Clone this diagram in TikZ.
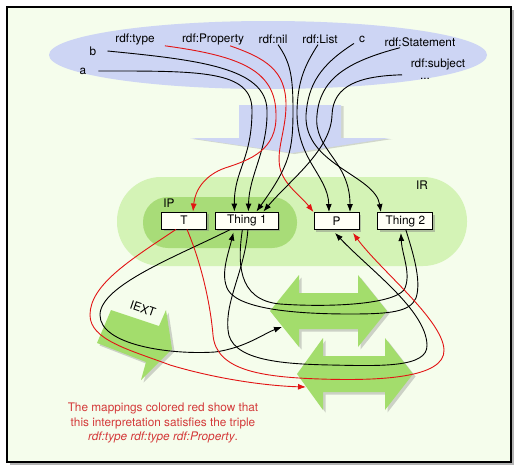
\documentclass[tikz,border=0pt]{standalone}
\usepackage{fontspec}
\setmainfont{TeX Gyre Heros}
\usetikzlibrary{positioning,shadows,arrows.meta}
\definecolor{paper}{RGB}{245,253,236}
\definecolor{skyblue}{RGB}{205,213,244}
\definecolor{irgreen}{RGB}{212,243,182}
\definecolor{ipgreen}{RGB}{168,220,120}
\definecolor{arrowgreen}{RGB}{163,221,108}
\definecolor{mapred}{RGB}{226,20,20}
\definecolor{notered}{RGB}{212,58,58}
\definecolor{boxfill}{RGB}{255,255,246}

\begin{document}
\begin{tikzpicture}[x=1pt, y=-1pt, >={Latex[length=8pt,width=6pt]},
  every node/.style={font=\fontsize{11.8}{14.5}\selectfont},
  box/.style={rectangle, draw, fill=boxfill, line width=0.9pt, minimum height=17pt, minimum width=45pt, inner sep=2pt, drop shadow={shadow xshift=2pt, shadow yshift=-2pt, opacity=0.45}},
  lbl/.style={inner sep=1pt},
  map/.style={line width=0.9pt, ->},
  redmap/.style={map, draw=mapred},
  greenarrow/.style={fill=arrowgreen, drop shadow={shadow xshift=2.5pt, shadow yshift=-2.5pt, opacity=0.35}}]
\useasboundingbox (0,0) rectangle (517,471);
\draw[line width=1.2pt, fill=paper, drop shadow={shadow xshift=2.5pt, shadow yshift=-2.5pt, opacity=0.6}] (7,7) rectangle (511,462);

% the vocabulary and the interpretation arrow
\fill[skyblue] (268,55) ellipse [x radius=219, y radius=34];
\fill[skyblue, drop shadow={shadow xshift=2.5pt, shadow yshift=-1pt, opacity=0.3}] (239,105) -- (341,105) -- (341,138) -- (390,138) -- (292,153) -- (190,138) -- (239,138) -- cycle;

% IR and IP
\fill[irgreen, rounded corners=44pt] (117,177) rectangle (467,266);
\fill[ipgreen, rounded corners=25pt] (143,197) rectangle (297,248);
\node (ir) at (422,185) {IR};
\node (ip) at (169,203) {IP};

% IEXT and the pairs
\fill[greenarrow] (111,310) -- (159,326) -- (166,310) -- (172,349) -- (141,380) -- (146,362) -- (97,343) -- cycle;
\node[rotate=-19, inner sep=0pt] (iext) at (143,309) {IEXT};
\fill[greenarrow] (270,311) -- (299,275) -- (299,293) -- (358,293) -- (358,275) -- (387,311) -- (358,347) -- (358,329) -- (299,329) -- (299,347) -- cycle;
\coordinate (upper) at (282,327);
\fill[greenarrow] (297,374) -- (323,338) -- (323,356) -- (385,356) -- (385,338) -- (413,374) -- (385,410) -- (385,392) -- (323,392) -- (323,410) -- cycle;
\coordinate (lower) at (306,387);

\node[lbl] (a) at (83,71) {a};
\node[lbl] (b) at (93,51) {b};
\node[lbl] (type) at (135,39) {rdf:type};
\node[lbl] (property) at (213,39) {rdf:Property};
\node[lbl] (nil) at (273,39) {rdf:nil};
\node[lbl] (list) at (320,39) {rdf:List};
\node[lbl] (c) at (362,39) {c};
\node[lbl] (statement) at (420,42) {rdf:Statement};
\node[lbl] (subject) at (438,64) {rdf:subject};
\node[lbl, anchor=base, text height=2pt, inner sep=0pt] (more) at (425,79) {...};

\node[box] (T) at (184,220.5) {T};
\node[box, minimum width=63pt, right=8pt of T] (thing1) {Thing 1};
\node[box] (P) at (336.5,221) {P};
\node[box, minimum width=55pt, right=18pt of P] (thing2) {Thing 2};

% IS
\draw[map] ([xshift=11pt]a.east) .. controls (200,71) and (252,70) .. (252,110) .. controls (252,160) and (234,170) .. ([xshift=-12.5pt]thing1.north);
\draw[map] ([xshift=10pt]b.east) .. controls (200,60) and (266,68) .. (267,110) .. controls (268,150) and (249,175) .. ([xshift=1.5pt]thing1.north);
\draw[redmap] ([xshift=9pt]type.south east) .. controls (240,56) and (276,70) .. (276,115) .. controls (277,150) and (250,160) .. (225,168) .. controls (205,175) and (195,190) .. ([xshift=9pt]T.north);
\draw[redmap] ([xshift=17pt]property.south) .. controls (265,58) and (286,70) .. (286,105) .. controls (286,130) and (276,150) .. (280,168) .. controls (284,185) and (300,195) .. (P.north west);
\draw[map] ([xshift=5pt]nil.south) .. controls (290,62) and (293,75) .. (293,110) .. controls (293,150) and (290,165) .. ([xshift=9.5pt]thing1.north);
\draw[map] ([xshift=-2pt]list.south) .. controls (305,65) and (298,80) .. (297,110) .. controls (296,160) and (328,175) .. ([xshift=-7.5pt]P.north);
\draw[map] ([xshift=-8pt]c.south) .. controls (320,65) and (308,85) .. (306,115) .. controls (304,165) and (375,175) .. ([xshift=-24.5pt]thing2.north);
\draw[map] ([xshift=-20pt]statement.south) .. controls (345,62) and (320,80) .. (317,115) .. controls (313,150) and (350,160) .. ([xshift=13.5pt]P.north);
\draw[map] ([xshift=-36pt,yshift=-4pt]subject.south) .. controls (360,76) and (333,85) .. (332,115) .. controls (331,150) and (290,180) .. ([xshift=16.5pt]thing1.north);

% IEXT
\draw[map] ([xshift=-16.5pt]thing1.south) .. controls (180,255) and (100,285) .. (100,315) .. controls (100,345) and (170,355) .. (215,352) .. controls (245,348) and (265,333) .. (upper);
\draw[redmap] ([xshift=-8pt]T.south) .. controls (130,260) and (90,285) .. (90,315) .. controls (90,340) and (130,350) .. (170,365) .. controls (220,380) and (270,386) .. (lower);
\draw[map] ([xshift=0.5pt]thing2.south) .. controls (412,250) and (422,280) .. (416,298) .. controls (410,312) and (390,314) .. (350,314) .. controls (300,314) and (240,310) .. (228,290) .. controls (220,275) and (228,255) .. ([xshift=-13.5pt,yshift=-3pt]thing1.south);
\draw[map] ([xshift=-4.5pt]thing1.south) .. controls (238,260) and (236,300) .. (280,304) .. controls (320,307) and (390,306) .. (404,290) .. controls (412,275) and (402,255) .. ([xshift=-4.5pt,yshift=-3pt]thing2.south);
\draw[map] ([xshift=1pt]thing1.south) .. controls (245,270) and (225,300) .. (228,330) .. controls (230,360) and (280,364) .. (330,365) .. controls (380,366) and (428,368) .. (427,345) .. controls (426,310) and (370,270) .. ([xshift=-1.5pt,yshift=-3pt]P.south);
\draw[redmap] ([xshift=3pt]T.south) .. controls (200,260) and (210,300) .. (213,335) .. controls (216,370) and (260,377) .. (320,379) .. controls (380,381) and (445,378) .. (444,350) .. controls (443,320) and (380,270) .. ([xshift=16.5pt,yshift=-3pt]P.south);

\node[align=center, text=notered] (note) at (163,423) {The mappings colored red show that\\this interpretation satisfies the triple\\\textit{rdf:type rdf:type rdf:Property}.};
\end{tikzpicture}
\end{document}
